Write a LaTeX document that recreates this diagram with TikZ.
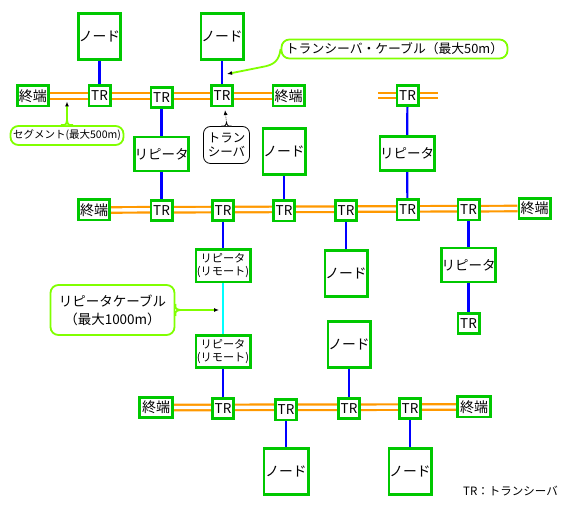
\documentclass[tikz,border=0pt]{standalone}
\usepackage{fontspec}
\setmainfont{Noto Sans CJK JP}
\usetikzlibrary{arrows.meta}
\pgfdeclarelayer{bg}
\pgfdeclarelayer{paper}
\pgfsetlayers{paper,bg,main}
\definecolor{boxgreen}{RGB}{0,200,0}
\definecolor{busorange}{RGB}{255,153,0}
\definecolor{linkblue}{RGB}{0,0,255}
\definecolor{cyanlink}{RGB}{0,255,255}
\definecolor{calloutgreen}{RGB}{128,255,0}
\tikzset{
  gbox/.style={draw=boxgreen, line width=2.6pt, fill=white, inner sep=0pt, align=center, text=black},
  trbox/.style={gbox, minimum width=21.4pt, minimum height=20.4pt, font=\fontsize{13.5}{15}\selectfont},
  endbox/.style={gbox, minimum width=31.4pt, minimum height=20.4pt, font=\fontsize{14}{15}\selectfont},
  nodebox/.style={gbox, minimum width=42.4pt, minimum height=46.4pt, font=\fontsize{13.8}{15}\selectfont},
  repbox/.style={gbox, minimum width=54.4pt, minimum height=34pt, font=\fontsize{13.5}{15}\selectfont},
  remotebox/.style={gbox, minimum width=54.4pt, minimum height=32.4pt, font=\fontsize{11.2}{13}\selectfont},
  bus/.style={draw=busorange, line width=2.2pt, double=white, double distance=3.3pt},
  link/.style={draw=linkblue, line width=2.2pt},
  rlink/.style={draw=cyanlink, line width=2.2pt},
  callout/.style={draw=calloutgreen, line width=1.8pt, rounded corners=8pt, fill=white, inner sep=0pt, align=center},
  cline/.style={draw=calloutgreen, line width=1.8pt},
  ptr/.style={cline, -{Latex[length=5pt,width=4pt,color=black]}},
}
\begin{document}
\begin{tikzpicture}[x=1pt,y=-1pt]
\begin{pgfonlayer}{paper}
\fill[white] (0,0) rectangle (566,510);
\end{pgfonlayer}
\useasboundingbox (0,0) rectangle (566,510);

% ---------- top segment ----------
\node[nodebox] (n1) at (99.5,36.5) {ノード};
\node[nodebox] (n2) at (222,36.5) {ノード};
\node[endbox] (t1L) at (33,96) {終端};
\node[trbox] (tr1) at (99.5,96) {TR};
\node[trbox] (tr2) at (161.5,97.5) {TR};
\node[trbox] (tr3) at (222,96) {TR};
\node[endbox] (t1R) at (288.5,96) {終端};
\node[repbox] (rep1) at (161.5,154) {リピータ};
\node[nodebox] (n3) at (284,151.5) {ノード};

% ---------- top-right segment ----------
\coordinate (b4L) at (378,95.5);
\coordinate (b4R) at (438,95.5);
\node[trbox] (tr4) at (407.5,95.5) {TR};
\node[repbox] (rep2) at (407,153.5) {リピータ};

% ---------- middle segment ----------
\node[endbox] (t2L) at (94,210) {終端};
\node[trbox] (trA) at (161.5,210.5) {TR};
\node[trbox] (trB) at (223,210.5) {TR};
\node[trbox] (trC) at (284,211) {TR};
\node[trbox] (trD) at (346,210.5) {TR};
\node[trbox] (trE) at (407.5,210) {TR};
\node[trbox] (trF) at (468.5,210) {TR};
\node[endbox] (t2R) at (534.5,208.5) {終端};
\node[remotebox] (rem1) at (223,266) {リピータ\\(リモート)};
\node[nodebox] (n4) at (346,273.5) {ノード};
\node[repbox] (rep3) at (468.5,265) {リピータ};
\node[trbox] (tr5) at (468.5,323.5) {TR};
\node[remotebox] (rem2) at (223,351.5) {リピータ\\(リモート)};
\node[nodebox] (n5) at (349,344.5) {ノード};

% ---------- bottom segment ----------
\node[endbox, minimum width=33.4pt] (t3L) at (156,407.5) {終端};
\node[trbox] (trG) at (223,408.5) {TR};
\node[trbox] (trH) at (286,410) {TR};
\node[trbox] (trI) at (349,408.5) {TR};
\node[trbox] (trJ) at (410,408.5) {TR};
\node[endbox, minimum width=33.4pt] (t3R) at (474,407) {終端};
\node[nodebox, minimum width=44.4pt] (n6) at (286,471.5) {ノード};
\node[nodebox] (n7) at (410,471.5) {ノード};

% ---------- connectors (behind boxes) ----------
\begin{pgfonlayer}{bg}
\draw[bus] (t1L) -- (t1R);
\draw[bus] (b4L) -- (b4R);
\draw[bus] (t2L) -- (t2R);
\draw[bus] (t3L) -- (t3R);
\draw[link] (n1) -- (tr1);
\draw[link] (n2) -- (tr3);
\draw[link] (tr2) -- (rep1);
\draw[link] (rep1) -- (trA);
\draw[link] (n3) -- (trC);
\draw[link] (tr4) -- (rep2);
\draw[link] (rep2) -- (trE);
\draw[link] (trB) -- (rem1);
\draw[rlink] (rem1) -- (rem2);
\draw[link] (rem2) -- (trG);
\draw[link] (trD) -- (n4);
\draw[link] (trF) -- (rep3);
\draw[link] (rep3) -- (tr5);
\draw[link] (n5) -- (trI);
\draw[link] (trH) -- (n6);
\draw[link] (trJ) -- (n7);
\end{pgfonlayer}

% ---------- callouts ----------
% segment
\node[callout, minimum width=113pt, minimum height=19pt, font=\fontsize{10.5}{12}\selectfont] (seg) at (67,135.5) {セグメント(最大500m)};
\coordinate (segtip) at (67,101.5);
\draw[cline, fill=white] ([xshift=-6pt]seg.north) .. controls ([xshift=-1pt]seg.north) .. ([yshift=5pt]seg.north) .. controls ([xshift=1pt]seg.north) .. ([xshift=6pt]seg.north);
\draw[ptr] ([yshift=5pt]seg.north) -- (segtip);

% transceiver label
\node[draw=black, line width=0.8pt, rounded corners=7pt, fill=white, minimum width=46pt, minimum height=37pt, inner sep=0pt, align=center, font=\fontsize{12.5}{14.5}\selectfont] (trl) at (226.5,145) {トラン\\シーバ};
\coordinate (trltip) at (225,110);
\draw[black, line width=0.8pt, fill=white] ([xshift=-5pt]trl.north) .. controls ([xshift=-1pt]trl.north) .. ([yshift=4pt]trl.north) .. controls ([xshift=1pt]trl.north) .. ([xshift=5pt]trl.north);
\draw[black!70, line width=0.9pt, densely dotted, -{Latex[length=5pt,width=4pt,color=black]}] ([yshift=4pt]trl.north) -- (trltip);

% transceiver cable
\node[callout, minimum width=226pt, minimum height=19pt, font=\fontsize{12.8}{14}\selectfont] (cable) at (394.5,49) {トランシーバ・ケーブル（最大50m）};
\coordinate (cabletip) at (227,74);
\draw[ptr] (cable.west) .. controls (279,61) and (274,65) .. (262,67) -- (cabletip);

% repeater cable
\node[callout, minimum width=124pt, minimum height=50pt, font=\fontsize{13.5}{18}\selectfont] (rcable) at (112.5,310) {リピータケーブル\\（最大1000m）};
\coordinate (rctip) at (219,310);
\draw[cline, fill=white] ([yshift=-6pt]rcable.east) .. controls ([yshift=-1pt]rcable.east) .. ([xshift=5pt]rcable.east) .. controls ([yshift=1pt]rcable.east) .. ([yshift=6pt]rcable.east);
\draw[ptr] ([xshift=5pt]rcable.east) -- (rctip);

% legend
\node[font=\fontsize{11.5}{13}\selectfont, inner sep=0pt] (legend) at (510.5,491) {TR：トランシーバ};
\end{tikzpicture}
\end{document}
